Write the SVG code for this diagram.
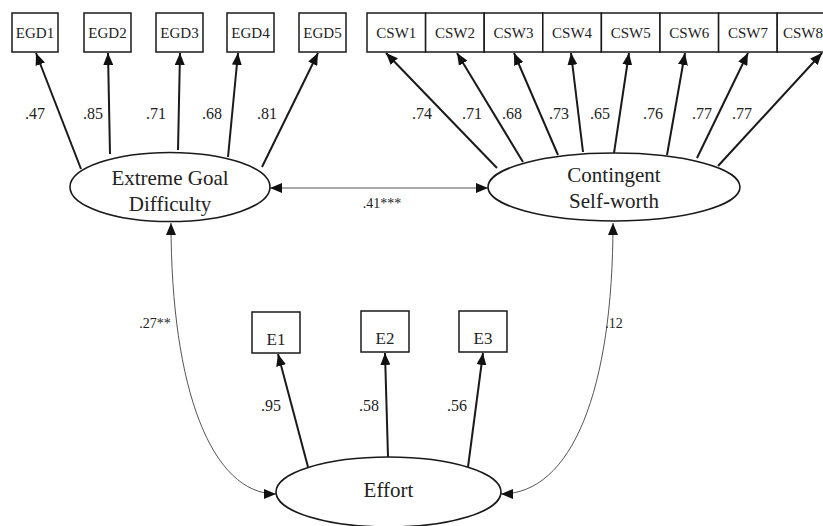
<svg xmlns="http://www.w3.org/2000/svg" width="823" height="526" viewBox="0 0 823 526">
  <style>
    .box { fill: #fff; stroke: #1a1a1a; stroke-width: 1.5; }
    .lat { fill: #fff; stroke: #1a1a1a; stroke-width: 1.6; }
    .ind { font-family: "Liberation Serif", "Times New Roman", serif; font-size: 15px; fill: #222; text-anchor: middle; }
    .big { font-size: 17px; }
    .lname { font-family: "Liberation Serif", "Times New Roman", serif; font-size: 21px; fill: #222; text-anchor: middle; }
    .coef { font-family: "Liberation Serif", "Times New Roman", serif; font-size: 16px; fill: #222; text-anchor: middle; }
    .small { font-size: 14px; }
    .load { stroke: #1a1a1a; stroke-width: 2; fill: none; marker-end: url(#head); }
    .cov { stroke: #555; stroke-width: 1; fill: none; marker-start: url(#head); marker-end: url(#head); }
  </style>
  <defs>
    <marker id="head" markerUnits="userSpaceOnUse" markerWidth="12" markerHeight="10" refX="12" refY="5" orient="auto-start-reverse" viewBox="0 0 12 10">
      <path d="M0,0 L12,5 L0,10 z" fill="#111"/>
    </marker>
  </defs>
  <rect width="823" height="526" fill="#fff"/>

  <!-- connectors: loadings, correlations -->
  <g id="connectors">
    <!-- Extreme Goal Difficulty loadings -->
    <line class="load" x1="81" y1="169" x2="36" y2="53"/>
    <line class="load" x1="110" y1="154" x2="108" y2="53"/>
    <line class="load" x1="178" y1="150" x2="180" y2="53"/>
    <line class="load" x1="228" y1="157" x2="238" y2="53"/>
    <line class="load" x1="262" y1="167" x2="318" y2="53"/>
    <!-- Contingent Self-worth loadings -->
    <line class="load" x1="497" y1="168" x2="386" y2="53"/>
    <line class="load" x1="523" y1="162" x2="457" y2="53"/>
    <line class="load" x1="558" y1="155" x2="514" y2="53"/>
    <line class="load" x1="583" y1="152" x2="571" y2="53"/>
    <line class="load" x1="614" y1="153" x2="629" y2="53"/>
    <line class="load" x1="667" y1="155" x2="685" y2="53"/>
    <line class="load" x1="697" y1="158" x2="748" y2="53"/>
    <line class="load" x1="718" y1="166" x2="822" y2="53"/>
    <!-- Effort loadings -->
    <line class="load" x1="308" y1="467" x2="278" y2="354"/>
    <line class="load" x1="388" y1="457" x2="385" y2="353"/>
    <line class="load" x1="468" y1="467" x2="483" y2="353"/>
    <!-- correlations -->
    <line class="cov" x1="270" y1="188" x2="488" y2="188"/>
    <path class="cov" d="M171,223 C171,390 212,494 276,494"/>
    <path class="cov" d="M613,223 C613,390 572,494 501,494"/>
    <!-- coefficients -->
    <text class="coef" x="35" y="119">.47</text>
    <text class="coef" x="93" y="119">.85</text>
    <text class="coef" x="156" y="119">.71</text>
    <text class="coef" x="212" y="119">.68</text>
    <text class="coef" x="267" y="119">.81</text>
    <text class="coef" x="422" y="119">.74</text>
    <text class="coef" x="472" y="119">.71</text>
    <text class="coef" x="512" y="119">.68</text>
    <text class="coef" x="559" y="119">.73</text>
    <text class="coef" x="600" y="119">.65</text>
    <text class="coef" x="653" y="119">.76</text>
    <text class="coef" x="702" y="119">.77</text>
    <text class="coef" x="742" y="119">.77</text>
    <text class="coef small" x="382" y="208">.41***</text>
    <text class="coef small" x="155" y="328">.27**</text>
    <text class="coef small" x="614" y="328">.12</text>
    <text class="coef" x="271" y="411">.95</text>
    <text class="coef" x="369" y="411">.58</text>
    <text class="coef" x="457" y="411">.56</text>
  </g>

  <!-- Extreme Goal Difficulty indicators -->
  <g id="EGD1"><rect class="box" x="12" y="13" width="46" height="39"/><text class="ind" x="35" y="38">EGD1</text></g>
  <g id="EGD2"><rect class="box" x="84" y="13" width="47" height="39"/><text class="ind" x="107.5" y="38">EGD2</text></g>
  <g id="EGD3"><rect class="box" x="156" y="13" width="47" height="39"/><text class="ind" x="179.5" y="38">EGD3</text></g>
  <g id="EGD4"><rect class="box" x="227" y="13" width="47" height="39"/><text class="ind" x="250.5" y="38">EGD4</text></g>
  <g id="EGD5"><rect class="box" x="299" y="13" width="47" height="39"/><text class="ind" x="322.5" y="38">EGD5</text></g>

  <!-- Contingent Self-worth indicators -->
  <g id="CSW1"><rect class="box" x="367" y="13" width="58.6" height="39"/><text class="ind" x="396.3" y="38">CSW1</text></g>
  <g id="CSW2"><rect class="box" x="425.6" y="13" width="58.6" height="39"/><text class="ind" x="454.9" y="38">CSW2</text></g>
  <g id="CSW3"><rect class="box" x="484.2" y="13" width="58.6" height="39"/><text class="ind" x="513.5" y="38">CSW3</text></g>
  <g id="CSW4"><rect class="box" x="542.8" y="13" width="58.6" height="39"/><text class="ind" x="572.1" y="38">CSW4</text></g>
  <g id="CSW5"><rect class="box" x="601.4" y="13" width="58.6" height="39"/><text class="ind" x="630.7" y="38">CSW5</text></g>
  <g id="CSW6"><rect class="box" x="660" y="13" width="58.6" height="39"/><text class="ind" x="689.3" y="38">CSW6</text></g>
  <g id="CSW7"><rect class="box" x="718.6" y="13" width="58.6" height="39"/><text class="ind" x="747.9" y="38">CSW7</text></g>
  <g id="CSW8"><rect class="box" x="777.2" y="13" width="58.6" height="39"/><text class="ind" x="783" y="38" style="text-anchor:start">CSW8</text></g>

  <!-- Effort indicators -->
  <g id="E1"><rect class="box" x="252" y="312" width="48" height="41"/><text class="ind big" x="276" y="345">E1</text></g>
  <g id="E2"><rect class="box" x="361" y="311" width="48" height="41"/><text class="ind big" x="385" y="344">E2</text></g>
  <g id="E3"><rect class="box" x="459" y="311" width="48" height="41"/><text class="ind big" x="483" y="344">E3</text></g>

  <!-- latent factors -->
  <g id="ExtremeGoalDifficulty">
    <ellipse class="lat" cx="170" cy="187" rx="100" ry="34.5"/>
    <text class="lname" x="170" y="185">Extreme Goal</text>
    <text class="lname" x="170" y="211">Difficulty</text>
  </g>
  <g id="ContingentSelfWorth">
    <ellipse class="lat" cx="614" cy="187" rx="126" ry="34"/>
    <text class="lname" x="614" y="182">Contingent</text>
    <text class="lname" x="614" y="208">Self-worth</text>
  </g>
  <g id="Effort">
    <ellipse class="lat" cx="388.5" cy="492" rx="112.5" ry="35"/>
    <text class="lname" x="388.5" y="497">Effort</text>
  </g>
</svg>
